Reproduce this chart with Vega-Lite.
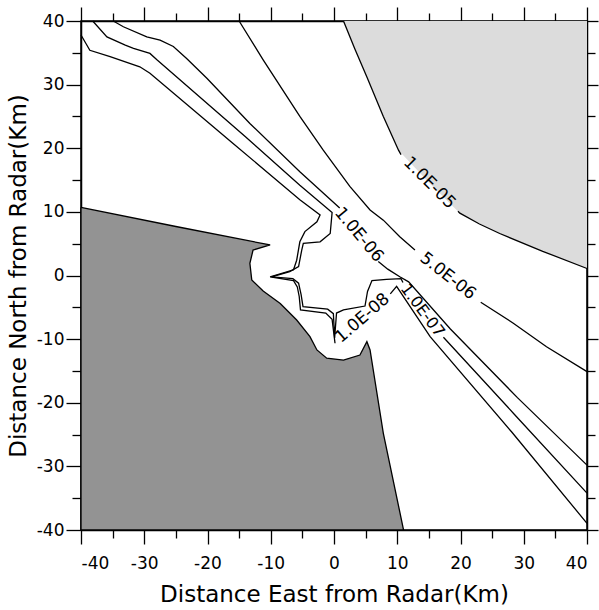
{
  "$schema": "https://vega.github.io/schema/vega-lite/v6.json",
  "width": 506,
  "height": 509,
  "autosize": "none",
  "padding": {"left": 81, "top": 21, "right": 12, "bottom": 80},
  "background": "white",
  "config": {
    "view": {"stroke": "black", "strokeWidth": 1.5},
    "font": "DejaVu Sans",
    "axis": {
      "domainColor": "black", "domainWidth": 1.5, "tickColor": "black", "tickWidth": 1.3,
      "grid": false, "labelFont": "DejaVu Sans", "labelFontSize": 17, "labelColor": "black",
      "titleFont": "DejaVu Sans", "titleFontSize": 23, "titleFontWeight": "normal", "titleColor": "black",
      "zindex": 2
    }
  },
  "datasets": {
    "light": [
      {"x": 1.5, "y": 40}, {"x": 5.2, "y": 31.2}, {"x": 7.8, "y": 25.0}, {"x": 10.2, "y": 19.7},
      {"x": 15.0, "y": 14.6}, {"x": 19.9, "y": 9.8}, {"x": 26.2, "y": 6.6}, {"x": 33.0, "y": 3.8}, {"x": 40, "y": 1.1}
    ],
    "dark": [
      {"x": -40, "y": 10.7}, {"x": -25, "y": 7.7}, {"x": -10.1, "y": 4.8}, {"x": -12.8, "y": 4.0},
      {"x": -13.3, "y": 1.9}, {"x": -13.0, "y": -0.7}, {"x": -11.2, "y": -2.45}, {"x": -8.5, "y": -4.4},
      {"x": -5.9, "y": -7.0}, {"x": -3.8, "y": -9.6}, {"x": -2.7, "y": -11.7}, {"x": -1.15, "y": -13.0},
      {"x": 1.5, "y": -13.3}, {"x": 4.1, "y": -12.5}, {"x": 5.2, "y": -10.4}, {"x": 5.7, "y": -11.7},
      {"x": 7.8, "y": -24.8}, {"x": 11.0, "y": -40}, {"x": -40, "y": -40}, {"x": -40, "y": 10.7}
    ],
    "lines": [
      {"seg": "e5a", "x": 1.5, "y": 40}, {"seg": "e5a", "x": 3.3, "y": 35.6}, {"seg": "e5a", "x": 5.2, "y": 31.2},
      {"seg": "e5a", "x": 7.8, "y": 25.0}, {"seg": "e5a", "x": 10.2, "y": 19.7}, {"seg": "e5a", "x": 10.6, "y": 19.0},
      {"seg": "e5b", "x": 19.6, "y": 10.1}, {"seg": "e5b", "x": 19.9, "y": 9.8}, {"seg": "e5b", "x": 23.0, "y": 8.1},
      {"seg": "e5b", "x": 26.2, "y": 6.6}, {"seg": "e5b", "x": 33.0, "y": 3.8}, {"seg": "e5b", "x": 40, "y": 1.1},

      {"seg": "f5a", "x": -15, "y": 40}, {"seg": "f5a", "x": -11.2, "y": 33.9}, {"seg": "f5a", "x": -5.4, "y": 25.0},
      {"seg": "f5a", "x": -1.7, "y": 19.7}, {"seg": "f5a", "x": 2.5, "y": 14.0}, {"seg": "f5a", "x": 5.7, "y": 10.3},
      {"seg": "f5a", "x": 7.8, "y": 8.7}, {"seg": "f5a", "x": 10.4, "y": 6.1}, {"seg": "f5a", "x": 12.8, "y": 4.0},
      {"seg": "f5b", "x": 23.2, "y": -4.2}, {"seg": "f5b", "x": 28.35, "y": -7.5}, {"seg": "f5b", "x": 33.6, "y": -11.2},
      {"seg": "f5b", "x": 40, "y": -15.1},

      {"seg": "e6a", "x": -34.9, "y": 40}, {"seg": "e6a", "x": -33.3, "y": 39.1}, {"seg": "e6a", "x": -29.6, "y": 37.5},
      {"seg": "e6a", "x": -27.5, "y": 37.0}, {"seg": "e6a", "x": -25.4, "y": 36.0}, {"seg": "e6a", "x": -23.3, "y": 34.1},
      {"seg": "e6a", "x": -20.1, "y": 31.0}, {"seg": "e6a", "x": -13.3, "y": 23.9}, {"seg": "e6a", "x": -5.4, "y": 16.3},
      {"seg": "e6a", "x": 0.9, "y": 10.6},
      {"seg": "e6b", "x": 7.0, "y": 2.2}, {"seg": "e6b", "x": 8.5, "y": 1.0}, {"seg": "e6b", "x": 10.4, "y": -0.2},
      {"seg": "e6b", "x": 11.8, "y": -1.0}, {"seg": "e6b", "x": 18.4, "y": -8.4}, {"seg": "e6b", "x": 29.0, "y": -19.2},
      {"seg": "e6b", "x": 40, "y": -29.8},

      {"seg": "e7a", "x": -38.15, "y": 40}, {"seg": "e7a", "x": -35.9, "y": 37.5}, {"seg": "e7a", "x": -33.0, "y": 36.2},
      {"seg": "e7a", "x": -31.7, "y": 35.7}, {"seg": "e7a", "x": -29.1, "y": 34.9}, {"seg": "e7a", "x": -28.0, "y": 33.9},
      {"seg": "e7a", "x": -14.0, "y": 21.8}, {"seg": "e7a", "x": -5.4, "y": 14.2}, {"seg": "e7a", "x": -0.3, "y": 9.9},
      {"seg": "e7a", "x": -0.6, "y": 6.6}, {"seg": "e7a", "x": -2.2, "y": 5.3}, {"seg": "e7a", "x": -4.85, "y": 5.05},
      {"seg": "e7a", "x": -5.1, "y": 4.0}, {"seg": "e7a", "x": -5.6, "y": 1.4}, {"seg": "e7a", "x": -7.0, "y": 0.6},
      {"seg": "e7a", "x": -9.85, "y": -0.2}, {"seg": "e7a", "x": -6.5, "y": -0.5}, {"seg": "e7a", "x": -5.6, "y": -1.2},
      {"seg": "e7a", "x": -5.2, "y": -3.0}, {"seg": "e7a", "x": -4.9, "y": -4.9}, {"seg": "e7a", "x": -1.0, "y": -5.3},
      {"seg": "e7a", "x": -0.1, "y": -6.0}, {"seg": "e7a", "x": 0.1, "y": -9.8}, {"seg": "e7a", "x": 0.4, "y": -5.9},
      {"seg": "e7a", "x": 1.5, "y": -5.4}, {"seg": "e7a", "x": 4.9, "y": -4.8}, {"seg": "e7a", "x": 5.3, "y": -2.5},
      {"seg": "e7a", "x": 6.0, "y": -0.8}, {"seg": "e7a", "x": 8.3, "y": -0.6}, {"seg": "e7a", "x": 10.6, "y": -0.5},
      {"seg": "e7a", "x": 10.9, "y": -1.1},
      {"seg": "e7b", "x": 17.3, "y": -9.7}, {"seg": "e7b", "x": 28.5, "y": -21.8}, {"seg": "e7b", "x": 40, "y": -34.2},

      {"seg": "e8a", "x": -40, "y": 37.8}, {"seg": "e8a", "x": -38.6, "y": 35.4}, {"seg": "e8a", "x": -35.4, "y": 34.4},
      {"seg": "e8a", "x": -30.7, "y": 32.8}, {"seg": "e8a", "x": -29.1, "y": 31.8}, {"seg": "e8a", "x": -16.0, "y": 20.8},
      {"seg": "e8a", "x": -5.4, "y": 11.9}, {"seg": "e8a", "x": -2.2, "y": 9.5}, {"seg": "e8a", "x": -2.7, "y": 8.45},
      {"seg": "e8a", "x": -4.6, "y": 6.9}, {"seg": "e8a", "x": -5.4, "y": 5.3}, {"seg": "e8a", "x": -5.9, "y": 2.4},
      {"seg": "e8a", "x": -6.4, "y": 0.9}, {"seg": "e8a", "x": -10.1, "y": -0.2}, {"seg": "e8a", "x": -6.4, "y": -0.8},
      {"seg": "e8a", "x": -5.8, "y": -1.8}, {"seg": "e8a", "x": -5.5, "y": -3.3}, {"seg": "e8a", "x": -5.3, "y": -5.4},
      {"seg": "e8a", "x": -1.3, "y": -5.9}, {"seg": "e8a", "x": -0.3, "y": -6.9}, {"seg": "e8a", "x": 0.16, "y": -10.65},
      {"seg": "e8b", "x": 8.9, "y": -2.9}, {"seg": "e8b", "x": 9.9, "y": -1.7}, {"seg": "e8b", "x": 15.2, "y": -9.6},
      {"seg": "e8b", "x": 28.1, "y": -24.6}, {"seg": "e8b", "x": 40, "y": -38.95}
    ],
    "labels": [
      {"t": "1.0E-05", "x": 15.1, "y": 14.55},
      {"t": "5.0E-06", "x": 18.0, "y": -0.1},
      {"t": "1.0E-06", "x": 3.95, "y": 6.4},
      {"t": "1.0E-07", "x": 14.0, "y": -5.5},
      {"t": "1.0E-08", "x": 4.5, "y": -6.7}
    ]
  },
  "resolve": {"axis": {"x": "independent", "y": "independent"}},
  "layer": [
    {
      "data": {"name": "light"},
      "mark": {"type": "area", "color": "#dcdcdc", "opacity": 1},
      "encoding": {
        "x": {"field": "x", "type": "quantitative", "scale": {"domain": [-40, 40], "nice": false},
          "title": "Distance East from Radar(Km)",
          "axis": {"orient": "bottom", "values": [-40,-35,-30,-25,-20,-15,-10,-5,0,5,10,15,20,25,30,35,40],
            "labelExpr": "datum.value % 10 === 0 ? '' + datum.value : ''",
            "tickSize": {"condition": {"test": "datum.value % 10 === 0", "value": 14}, "value": 8},
            "labelPadding": 11, "titlePadding": 12}},
        "y": {"field": "y", "type": "quantitative", "scale": {"domain": [-40, 40], "nice": false},
          "title": "Distance North from Radar(Km)",
          "axis": {"orient": "left", "values": [-40,-35,-30,-25,-20,-15,-10,-5,0,5,10,15,20,25,30,35,40],
            "labelExpr": "datum.value % 10 === 0 ? '' + datum.value : ''",
            "tickSize": {"condition": {"test": "datum.value % 10 === 0", "value": 15}, "value": 9},
            "labelPadding": 2, "titlePadding": 6}},
        "y2": {"datum": 40}
      }
    },
    {
      "data": {"name": "dark"},
      "mark": {"type": "line", "fill": "#939393", "stroke": "black", "strokeWidth": 1.3},
      "encoding": {
        "x": {"field": "x", "type": "quantitative", "scale": {"domain": [-40, 40], "nice": false}, "title": null,
          "axis": {"orient": "top", "labels": false, "values": [-40,-35,-30,-25,-20,-15,-10,-5,0,5,10,15,20,25,30,35,40],
            "tickSize": {"condition": {"test": "datum.value % 10 === 0", "value": 14}, "value": 8}}},
        "y": {"field": "y", "type": "quantitative", "scale": {"domain": [-40, 40], "nice": false}, "title": null,
          "axis": {"orient": "right", "labels": false, "values": [-40,-35,-30,-25,-20,-15,-10,-5,0,5,10,15,20,25,30,35,40],
            "tickSize": {"condition": {"test": "datum.value % 10 === 0", "value": 11}, "value": 8}}},
        "order": {"value": null}
      }
    },
    {
      "data": {"name": "lines"},
      "mark": {"type": "line", "stroke": "black", "strokeWidth": 1.3},
      "encoding": {
        "x": {"field": "x", "type": "quantitative", "scale": {"domain": [-40, 40], "nice": false}, "axis": null},
        "y": {"field": "y", "type": "quantitative", "scale": {"domain": [-40, 40], "nice": false}, "axis": null},
        "detail": {"field": "seg"},
        "order": {"value": null}
      }
    },
    {
      "data": {"name": "labels"},
      "transform": [{"filter": "datum.t === '1.0E-05'"}],
      "mark": {"type": "text", "angle": 45, "fontSize": 17, "font": "DejaVu Sans", "color": "black"},
      "encoding": {
        "x": {"field": "x", "type": "quantitative", "scale": {"domain": [-40, 40], "nice": false}, "axis": null},
        "y": {"field": "y", "type": "quantitative", "scale": {"domain": [-40, 40], "nice": false}, "axis": null},
        "text": {"field": "t"}
      }
    },
    {
      "data": {"name": "labels"},
      "transform": [{"filter": "datum.t === '5.0E-06'"}],
      "mark": {"type": "text", "angle": 38, "fontSize": 17, "font": "DejaVu Sans", "color": "black"},
      "encoding": {
        "x": {"field": "x", "type": "quantitative", "scale": {"domain": [-40, 40], "nice": false}, "axis": null},
        "y": {"field": "y", "type": "quantitative", "scale": {"domain": [-40, 40], "nice": false}, "axis": null},
        "text": {"field": "t"}
      }
    },
    {
      "data": {"name": "labels"},
      "transform": [{"filter": "datum.t === '1.0E-06'"}],
      "mark": {"type": "text", "angle": 50, "fontSize": 17, "font": "DejaVu Sans", "color": "black"},
      "encoding": {
        "x": {"field": "x", "type": "quantitative", "scale": {"domain": [-40, 40], "nice": false}, "axis": null},
        "y": {"field": "y", "type": "quantitative", "scale": {"domain": [-40, 40], "nice": false}, "axis": null},
        "text": {"field": "t"}
      }
    },
    {
      "data": {"name": "labels"},
      "transform": [{"filter": "datum.t === '1.0E-07'"}],
      "mark": {"type": "text", "angle": 53, "fontSize": 16, "font": "DejaVu Sans", "color": "black"},
      "encoding": {
        "x": {"field": "x", "type": "quantitative", "scale": {"domain": [-40, 40], "nice": false}, "axis": null},
        "y": {"field": "y", "type": "quantitative", "scale": {"domain": [-40, 40], "nice": false}, "axis": null},
        "text": {"field": "t"}
      }
    },
    {
      "data": {"name": "labels"},
      "transform": [{"filter": "datum.t === '1.0E-08'"}],
      "mark": {"type": "text", "angle": -41, "fontSize": 17, "font": "DejaVu Sans", "color": "black"},
      "encoding": {
        "x": {"field": "x", "type": "quantitative", "scale": {"domain": [-40, 40], "nice": false}, "axis": null},
        "y": {"field": "y", "type": "quantitative", "scale": {"domain": [-40, 40], "nice": false}, "axis": null},
        "text": {"field": "t"}
      }
    }
  ]
}
